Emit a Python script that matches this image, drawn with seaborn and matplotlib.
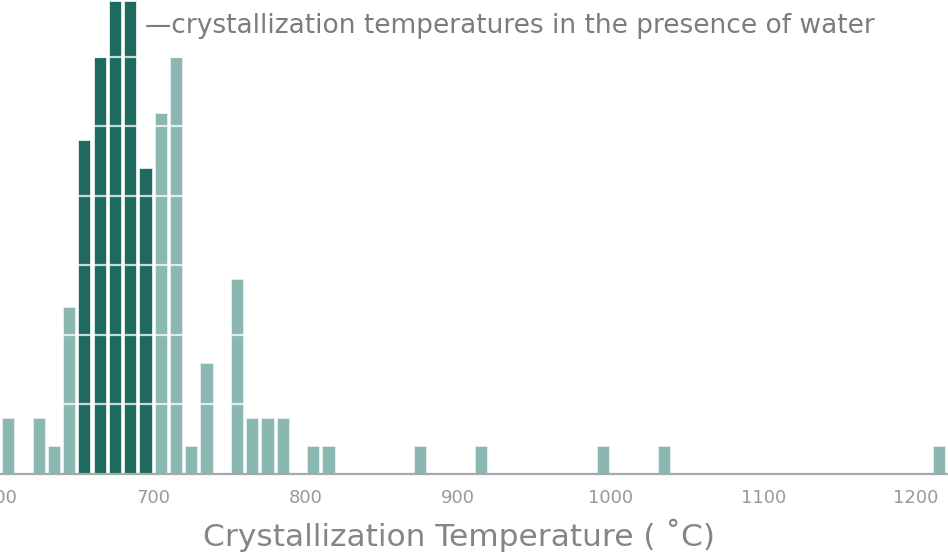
import pandas as pd
import seaborn as sns
import matplotlib.pyplot as plt

# Bins (lower edge, °C) and counts
bins_other = [600, 620, 630, 640, 700, 710, 720, 730, 750, 760, 770, 780,
              800, 810, 870, 910, 990, 1030, 1210]
counts_other = [2, 2, 1, 6, 13, 15, 1, 4, 7, 2, 2, 2, 1, 1, 1, 1, 1, 1, 1]
bins_water = [650, 660, 670, 680, 690]
counts_water = [12, 15, 17, 17, 11]

tick_values = [600, 700, 800, 900, 1000, 1100, 1200]
grid_levels = [2.5, 5, 7.5, 10, 12.5, 15]

dark = "#1f6a60"
light = "#8ab7b2"
grey = "#858585"

data = pd.DataFrame({
    "temp": [b + 5 for b in bins_other] + [b + 5 for b in bins_water],
    "n": counts_other + counts_water,
    "group": ["other"] * len(bins_other) + ["water"] * len(bins_water),
})

sns.set_style("white")
plt.rcParams["font.family"] = ["DejaVu Sans"]

fig = plt.figure(figsize=(9.48, 5.6), dpi=100)
ax = fig.add_axes([0, 1 - 474 / 560, 1, 474 / 560])

sns.histplot(data=data, x="temp", weights="n", hue="group",
             palette={"other": light, "water": dark}, binwidth=10,
             binrange=(600, 1220), shrink=0.8, alpha=1, multiple="layer",
             legend=False, edgecolor="#e6efee", linewidth=0.6, ax=ax)

# white bands across the bars
for g in grid_levels:
    ax.axhline(g, color="white", lw=1.6, alpha=0.75, zorder=5)

ax.set_xlim(599.7, 1221)
ax.set_ylim(0, 17.05)
ax.set_yticks([])
ax.set_ylabel("")
ax.set_xticks(tick_values)
ax.set_xticklabels([str(t) for t in tick_values])
ax.tick_params(axis="x", colors="#9a9a9a", labelcolor="#999999", length=7,
               width=1.3, direction="out", labelsize=13, pad=4)
for side in ["top", "left", "right"]:
    ax.spines[side].set_visible(False)
ax.spines["bottom"].set_color("#a8a8a8")
ax.spines["bottom"].set_linewidth(1.6)

ax.set_xlabel("Crystallization Temperature ( ˚C)", fontsize=22.5, color=grey)
ax.xaxis.set_label_coords(459 / 948, -0.095)

ax.text(145 / 948, 1 - 26 / 474, "—crystallization temperatures in the presence of water",
        transform=ax.transAxes, fontsize=19, color="#7c7c7c", va="center", ha="left")

plt.savefig("out.png", dpi=100)
plt.close()
